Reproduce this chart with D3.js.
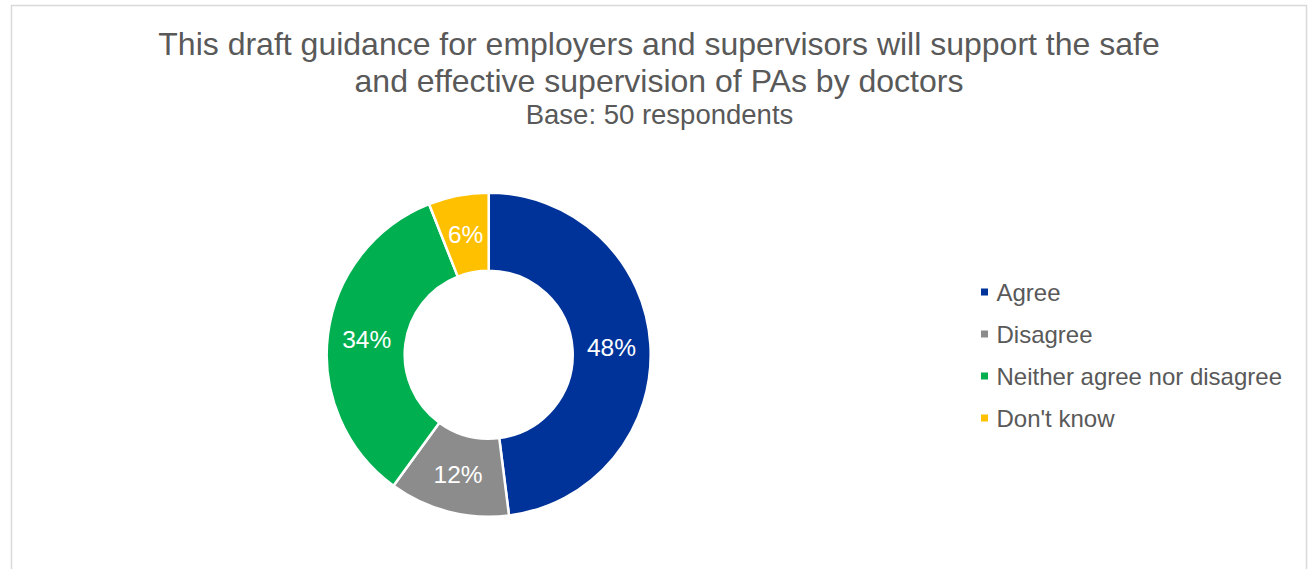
<!DOCTYPE html>
<html>
<head>
<meta charset="utf-8">
<script src="https://cdn.jsdelivr.net/npm/d3@7"></script>
<style>
  html, body { margin: 0; padding: 0; background: #fff; }
  svg { display: block; font-family: "Liberation Sans", Arial, sans-serif; }
</style>
</head>
<body>
<svg id="chart" width="1309" height="569"></svg>
<script>
// Survey responses (percent of 50 respondents)
const categories = ["Agree", "Disagree", "Neither agree nor disagree", "Don't know"];
const values = [48, 12, 34, 6];
const colors = ["#003399", "#8c8c8c", "#00b050", "#ffc000"];
const titleLines = [
  "This draft guidance for employers and supervisors will support the safe",
  "and effective supervision of PAs by doctors"
];
const subtitle = "Base: 50 respondents";

const W = 1309, H = 569;
const svg = d3.select("#chart");

// Chart-area frame
svg.append("rect")
  .attr("x", 11.5).attr("y", 5.5)
  .attr("width", 1295).attr("height", 620)
  .attr("fill", "#fff")
  .attr("stroke", "#d9d9d9").attr("stroke-width", 1.5);

// Title
const title = svg.append("text")
  .attr("text-anchor", "middle")
  .attr("fill", "#595959")
  .attr("font-size", 32);
titleLines.forEach((t, i) => {
  title.append("tspan").attr("x", 659).attr("y", 55 + i * 36.5).text(t);
});
svg.append("text")
  .attr("x", 659.5).attr("y", 124)
  .attr("text-anchor", "middle")
  .attr("fill", "#595959")
  .attr("font-size", 27.5)
  .text(subtitle);

// Donut
const cx = 488.7, cy = 354.7, outerR = 162, innerR = 84;
const pie = d3.pie().sort(null).value(d => d);
const arcs = pie(values);
const arc = d3.arc().innerRadius(innerR).outerRadius(outerR);

const g = svg.append("g").attr("transform", `translate(${cx},${cy})`);
g.selectAll("path.slice")
  .data(arcs)
  .join("path")
  .attr("class", "slice")
  .attr("d", arc)
  .attr("fill", (d, i) => colors[i])
  .attr("stroke", "#fff")
  .attr("stroke-width", 2.5)
  .attr("stroke-linejoin", "round");

g.selectAll("text.label")
  .data(arcs)
  .join("text")
  .attr("class", "label")
  .attr("transform", d => {
    const [x, y] = arc.centroid(d);
    return `translate(${x},${y})`;
  })
  .attr("text-anchor", "middle")
  .attr("dy", "0.36em")
  .attr("fill", "#fff")
  .attr("font-size", 24.5)
  .text(d => d.data + "%");

// Legend
const legend = svg.append("g").attr("transform", "translate(981,0)");
const rows = legend.selectAll("g")
  .data(categories)
  .join("g")
  .attr("transform", (d, i) => `translate(0,${292 + i * 42})`);
rows.append("rect")
  .attr("x", 0).attr("y", -3.5)
  .attr("width", 7).attr("height", 7)
  .attr("fill", (d, i) => colors[i]);
rows.append("text")
  .attr("x", 15.5).attr("y", 8.5)
  .attr("fill", "#595959")
  .attr("font-size", 24)
  .text(d => d);
</script>
</body>
</html>
